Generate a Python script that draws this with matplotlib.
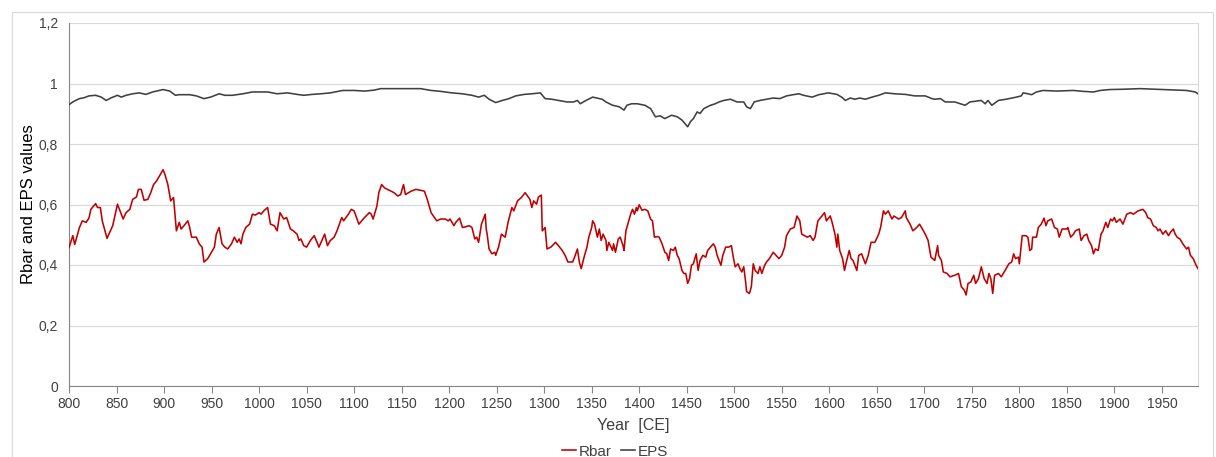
import matplotlib
matplotlib.use("Agg")
import matplotlib.pyplot as plt
from matplotlib.ticker import FuncFormatter
from matplotlib.patches import Rectangle

plt.rcParams['font.family'] = ['Liberation Sans', 'DejaVu Sans']

# Rbar (mean inter-series correlation), running window
rbar_years = [
    800, 804, 806, 811, 814, 818, 821, 823, 828, 830, 833, 835, 840, 842, 846,
    851, 855, 857, 860, 864, 867, 871, 873, 876, 879, 883, 886, 889, 892, 896,
    899, 901, 904, 907, 910, 913, 916, 918, 921, 925, 927, 929, 934, 937, 940,
    942, 946, 949, 953, 955, 958, 961, 964, 967, 971, 974, 977, 979, 981, 983,
    986, 990, 993, 996, 1000, 1002, 1005, 1009, 1012, 1016, 1019, 1022, 1026,
    1029, 1033, 1036, 1040, 1042, 1044, 1047, 1050, 1054, 1058, 1061, 1063,
    1069, 1072, 1075, 1079, 1082, 1087, 1089, 1094, 1097, 1100, 1105, 1111,
    1116, 1118, 1120, 1124, 1126, 1129, 1132, 1135, 1139, 1142, 1146, 1149,
    1152, 1154, 1160, 1165, 1170, 1174, 1177, 1181, 1187, 1191, 1196, 1199,
    1201, 1205, 1207, 1211, 1214, 1217, 1221, 1224, 1227, 1229, 1231, 1234,
    1238, 1239, 1240, 1242, 1245, 1248, 1249, 1252, 1255, 1259, 1262, 1266,
    1268, 1272, 1276, 1280, 1285, 1287, 1289, 1292, 1294, 1297, 1298, 1301,
    1303, 1307, 1312, 1315, 1319, 1322, 1325, 1330, 1332, 1335, 1337, 1339,
    1342, 1345, 1347, 1350, 1351, 1353, 1356, 1358, 1360, 1362, 1365, 1366,
    1368, 1372, 1373, 1375, 1378, 1380, 1383, 1384, 1386, 1388, 1391, 1393,
    1395, 1397, 1398, 1400, 1403, 1406, 1409, 1412, 1414, 1416, 1419, 1421,
    1424, 1427, 1429, 1431, 1433, 1436, 1438, 1440, 1442, 1445, 1447, 1449,
    1451, 1453, 1455, 1457, 1460, 1462, 1464, 1467, 1470, 1472, 1475, 1478,
    1480, 1482, 1486, 1488, 1491, 1494, 1497, 1499, 1501, 1504, 1506, 1508,
    1510, 1512, 1513, 1516, 1518, 1520, 1522, 1525, 1527, 1529, 1532, 1534,
    1537, 1541, 1544, 1547, 1550, 1553, 1555, 1559, 1563, 1566, 1569, 1571,
    1574, 1577, 1580, 1583, 1585, 1588, 1591, 1595, 1597, 1601, 1603, 1606,
    1608, 1609, 1611, 1614, 1616, 1618, 1621, 1623, 1625, 1629, 1631, 1634,
    1638, 1641, 1644, 1648, 1652, 1654, 1657, 1659, 1662, 1666, 1668, 1673,
    1676, 1680, 1681, 1685, 1688, 1692, 1695, 1698, 1701, 1704, 1707, 1711,
    1714, 1715, 1718, 1720, 1724, 1727, 1732, 1736, 1739, 1742, 1744, 1746,
    1749, 1752, 1754, 1757, 1760, 1763, 1766, 1768, 1770, 1772, 1774, 1778,
    1781, 1785, 1789, 1792, 1794, 1796, 1799, 1800, 1803, 1807, 1809, 1811,
    1813, 1814, 1818, 1820, 1823, 1826, 1828, 1830, 1834, 1837, 1840, 1842,
    1845, 1850, 1851, 1854, 1857, 1859, 1863, 1865, 1868, 1871, 1873, 1876,
    1878, 1880, 1883, 1886, 1888, 1891, 1893, 1896, 1898, 1900, 1902, 1906,
    1909, 1913, 1917, 1920, 1925, 1930, 1933, 1935, 1938, 1941, 1944, 1946,
    1948, 1951, 1954, 1957, 1959, 1962, 1964, 1966, 1969, 1972, 1976, 1978,
    1980, 1983, 1986, 1988,
]
rbar_values = [
    0.457, 0.497, 0.468, 0.524, 0.546, 0.541, 0.555, 0.584, 0.603, 0.590,
    0.590, 0.546, 0.488, 0.502, 0.530, 0.601, 0.568, 0.552, 0.573, 0.584,
    0.617, 0.625, 0.650, 0.650, 0.614, 0.617, 0.639, 0.666, 0.677, 0.699,
    0.715, 0.699, 0.666, 0.612, 0.623, 0.513, 0.541, 0.519, 0.530, 0.546,
    0.524, 0.492, 0.492, 0.470, 0.459, 0.410, 0.421, 0.437, 0.459, 0.502,
    0.524, 0.470, 0.459, 0.453, 0.470, 0.492, 0.475, 0.486, 0.470, 0.502,
    0.524, 0.535, 0.568, 0.565, 0.573, 0.568, 0.579, 0.590, 0.535, 0.530,
    0.513, 0.573, 0.552, 0.557, 0.519, 0.513, 0.502, 0.481, 0.486, 0.464,
    0.459, 0.481, 0.497, 0.475, 0.459, 0.502, 0.464, 0.481, 0.492, 0.513,
    0.557, 0.546, 0.568, 0.584, 0.579, 0.535, 0.557, 0.573, 0.568, 0.552,
    0.595, 0.639, 0.666, 0.655, 0.650, 0.644, 0.639, 0.628, 0.633, 0.666,
    0.633, 0.644, 0.650, 0.647, 0.644, 0.617, 0.573, 0.546, 0.552, 0.552,
    0.546, 0.552, 0.530, 0.541, 0.555, 0.524, 0.526, 0.530, 0.524, 0.486,
    0.492, 0.475, 0.535, 0.568, 0.519, 0.502, 0.453, 0.437, 0.442, 0.432,
    0.459, 0.502, 0.492, 0.541, 0.590, 0.579, 0.612, 0.623, 0.639, 0.617,
    0.590, 0.612, 0.601, 0.625, 0.631, 0.513, 0.524, 0.453, 0.459, 0.475,
    0.464, 0.448, 0.432, 0.410, 0.410, 0.426, 0.453, 0.410, 0.388, 0.426,
    0.459, 0.492, 0.524, 0.546, 0.535, 0.492, 0.519, 0.481, 0.502, 0.481,
    0.448, 0.475, 0.448, 0.470, 0.442, 0.486, 0.492, 0.464, 0.448, 0.513,
    0.535, 0.568, 0.584, 0.568, 0.590, 0.579, 0.599, 0.581, 0.584, 0.579,
    0.552, 0.546, 0.492, 0.494, 0.492, 0.470, 0.442, 0.437, 0.415, 0.453,
    0.448, 0.459, 0.432, 0.421, 0.382, 0.372, 0.372, 0.339, 0.355, 0.399,
    0.404, 0.437, 0.382, 0.415, 0.432, 0.426, 0.448, 0.459, 0.470, 0.459,
    0.432, 0.399, 0.432, 0.459, 0.459, 0.464, 0.426, 0.394, 0.404, 0.388,
    0.377, 0.394, 0.344, 0.312, 0.306, 0.328, 0.404, 0.382, 0.372, 0.394,
    0.372, 0.399, 0.410, 0.421, 0.442, 0.432, 0.421, 0.432, 0.459, 0.497,
    0.519, 0.524, 0.562, 0.546, 0.502, 0.497, 0.492, 0.497, 0.481, 0.492,
    0.546, 0.557, 0.573, 0.546, 0.562, 0.541, 0.502, 0.459, 0.502, 0.448,
    0.421, 0.382, 0.410, 0.448, 0.421, 0.415, 0.382, 0.432, 0.437, 0.404,
    0.432, 0.475, 0.475, 0.502, 0.524, 0.579, 0.568, 0.579, 0.552, 0.562,
    0.552, 0.557, 0.579, 0.557, 0.535, 0.513, 0.524, 0.535, 0.519, 0.502,
    0.481, 0.426, 0.415, 0.464, 0.432, 0.415, 0.377, 0.372, 0.361, 0.366,
    0.372, 0.328, 0.317, 0.301, 0.339, 0.344, 0.366, 0.339, 0.355, 0.394,
    0.355, 0.339, 0.372, 0.355, 0.306, 0.366, 0.372, 0.361, 0.382, 0.404,
    0.410, 0.437, 0.421, 0.426, 0.404, 0.497, 0.497, 0.492, 0.448, 0.453,
    0.492, 0.492, 0.524, 0.535, 0.555, 0.530, 0.546, 0.552, 0.524, 0.519,
    0.492, 0.519, 0.519, 0.524, 0.492, 0.502, 0.513, 0.519, 0.481, 0.497,
    0.502, 0.481, 0.464, 0.437, 0.453, 0.448, 0.502, 0.513, 0.541, 0.524,
    0.552, 0.546, 0.557, 0.541, 0.552, 0.535, 0.568, 0.573, 0.568, 0.579,
    0.584, 0.573, 0.557, 0.552, 0.530, 0.524, 0.513, 0.519, 0.502, 0.513,
    0.497, 0.508, 0.519, 0.502, 0.492, 0.486, 0.470, 0.453, 0.459, 0.432,
    0.421, 0.399, 0.388,
]

# EPS (expressed population signal)
eps_years = [
    800, 804, 807, 811, 816, 821, 828, 834, 839, 844, 851, 855, 860, 867, 874,
    881, 888, 895, 899, 906, 912, 916, 927, 934, 942, 949, 958, 964, 972, 983,
    993, 1009, 1019, 1030, 1040, 1047, 1056, 1065, 1075, 1088, 1100, 1111,
    1121, 1128, 1142, 1156, 1170, 1181, 1191, 1203, 1214, 1224, 1231, 1237,
    1242, 1249, 1256, 1263, 1270, 1279, 1287, 1296, 1301, 1308, 1315, 1324,
    1331, 1335, 1338, 1344, 1351, 1358, 1361, 1365, 1372, 1379, 1384, 1387,
    1392, 1398, 1406, 1412, 1414, 1417, 1422, 1427, 1434, 1440, 1445, 1448,
    1451, 1454, 1457, 1461, 1464, 1468, 1475, 1480, 1484, 1489, 1496, 1503,
    1510, 1513, 1517, 1521, 1527, 1534, 1541, 1548, 1555, 1562, 1568, 1573,
    1582, 1589, 1599, 1608, 1613, 1617, 1622, 1627, 1632, 1638, 1645, 1652,
    1659, 1669, 1680, 1690, 1701, 1708, 1711, 1717, 1722, 1732, 1743, 1748,
    1753, 1760, 1764, 1767, 1771, 1778, 1786, 1797, 1802, 1804, 1809, 1813,
    1818, 1825, 1839, 1857, 1867, 1878, 1885, 1895, 1909, 1927, 1944, 1962,
    1976, 1985, 1988,
]
eps_values = [
    0.930, 0.939, 0.944, 0.950, 0.953, 0.959, 0.961, 0.955, 0.944, 0.952,
    0.961, 0.955, 0.961, 0.966, 0.969, 0.964, 0.972, 0.977, 0.980, 0.975,
    0.961, 0.963, 0.963, 0.959, 0.950, 0.955, 0.966, 0.961, 0.961, 0.966,
    0.972, 0.972, 0.966, 0.969, 0.964, 0.961, 0.964, 0.966, 0.969, 0.977,
    0.977, 0.975, 0.978, 0.983, 0.983, 0.983, 0.983, 0.977, 0.974, 0.969,
    0.966, 0.961, 0.955, 0.961, 0.948, 0.937, 0.944, 0.950, 0.959, 0.964,
    0.966, 0.969, 0.950, 0.948, 0.944, 0.939, 0.939, 0.944, 0.933, 0.944,
    0.955, 0.950, 0.948, 0.939, 0.928, 0.923, 0.912, 0.928, 0.933, 0.933,
    0.928, 0.917, 0.906, 0.890, 0.893, 0.884, 0.895, 0.890, 0.879, 0.868,
    0.857, 0.874, 0.884, 0.906, 0.901, 0.917, 0.928, 0.933, 0.939, 0.944,
    0.948, 0.939, 0.939, 0.923, 0.917, 0.939, 0.944, 0.948, 0.952, 0.950,
    0.959, 0.963, 0.966, 0.961, 0.955, 0.963, 0.969, 0.964, 0.955, 0.944,
    0.952, 0.948, 0.952, 0.948, 0.955, 0.961, 0.969, 0.966, 0.964, 0.959,
    0.959, 0.950, 0.948, 0.950, 0.939, 0.939, 0.928, 0.939, 0.941, 0.944,
    0.933, 0.944, 0.928, 0.944, 0.948, 0.955, 0.959, 0.969, 0.966, 0.963,
    0.972, 0.977, 0.975, 0.977, 0.974, 0.972, 0.977, 0.980, 0.981, 0.983,
    0.981, 0.979, 0.977, 0.972, 0.966,
]

y_ticks = [0, 0.2, 0.4, 0.6, 0.8, 1.0, 1.2]
x_ticks = list(range(800, 2000, 50))

fig = plt.figure(figsize=(12.16, 4.57), dpi=100)
ax = fig.add_axes([69 / 1216, 1 - 386 / 457, (1198 - 69) / 1216, (386 - 23) / 457])

ax.plot(rbar_years, rbar_values, color='#C00000', lw=1.15, label='Rbar', zorder=3)
ax.plot(eps_years, eps_values, color='#404040', lw=1.15, label='EPS', zorder=3)

ax.set_xlim(800, 1988)
ax.set_ylim(0, 1.2)
ax.set_yticks(y_ticks)
ax.set_xticks(x_ticks)
ax.yaxis.set_major_formatter(FuncFormatter(lambda v, p: ('%g' % round(v, 1)).replace('.', ',')))
ax.grid(axis='y', color='#d9d9d9', lw=0.8, zorder=0)
ax.set_axisbelow(True)

ax.spines['top'].set_visible(False)
ax.spines['right'].set_color('#d9d9d9')
ax.spines['left'].set_color('#868686')
ax.spines['bottom'].set_color('#868686')
ax.tick_params(axis='y', length=0, labelsize=10, labelcolor='#404040', pad=8)
ax.tick_params(axis='x', direction='out', length=5, color='#868686',
               labelsize=10, labelcolor='#404040', pad=3)

ax.set_xlabel('Year  [CE]', fontsize=11.5, color='#404040', labelpad=5)
ax.set_ylabel('Rbar and EPS values', fontsize=12, color='#000000', labelpad=2)

fig.legend(loc='center', bbox_to_anchor=(0.506, 0.012), ncol=2, frameon=False,
           fontsize=11, handlelength=0.9, handletextpad=0.2, columnspacing=0.6,
           labelcolor='#404040')

fig.patches.append(Rectangle((12 / 1216, -0.02), 1201 / 1216, 1 - 12 / 457 + 0.02,
                             transform=fig.transFigure, fill=False,
                             edgecolor='#d9d9d9', lw=0.8))

fig.savefig('out.png', dpi=100)
